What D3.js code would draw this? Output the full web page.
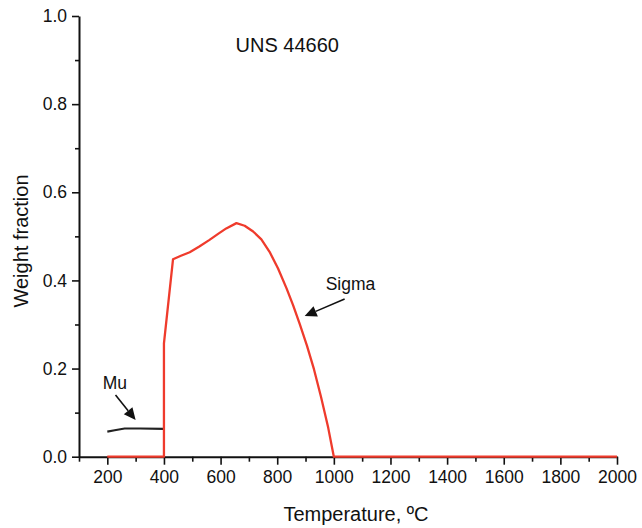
<!DOCTYPE html>
<html>
<head>
<meta charset="utf-8">
<script src="https://cdn.jsdelivr.net/npm/d3@7"></script>
<style>
  body { margin: 0; background: #fff; }
  svg text { font-family: "Liberation Sans", Arial, Helvetica, sans-serif; fill: #111; }
</style>
</head>
<body>
<div id="chart"></div>
<script>
// weight fraction of phases vs temperature
const sigmaTemp = [200, 400, 400, 432, 460, 491, 525, 561, 590, 620, 656, 685, 715, 744, 773, 803, 833, 856, 880, 905, 930, 955, 980, 1000, 2000];
const sigmaFrac = [0, 0, 0.257, 0.448, 0.456, 0.464, 0.477, 0.492, 0.505, 0.518, 0.530, 0.524, 0.511, 0.493, 0.465, 0.427, 0.382, 0.344, 0.300, 0.252, 0.198, 0.135, 0.066, 0, 0];
const muTemp = [200, 226, 261, 316, 400];
const muFrac = [0.057, 0.060, 0.064, 0.064, 0.063];

const xMajor = d3.range(200, 2001, 200);
const xMinor = d3.range(100, 2000, 200);
const yMajor = [0, 0.2, 0.4, 0.6, 0.8, 1.0];
const yMinor = [0.1, 0.3, 0.5, 0.7, 0.9];

const width = 642, height = 528;
const red = "#ef3b2c";

const svg = d3.select("#chart").append("svg")
  .attr("width", width)
  .attr("height", height);

const x = d3.scaleLinear().domain([100, 2000]).range([79, 617]);
const y = d3.scaleLinear().domain([0, 1]).range([456.7, 16]);

// axes
const xAxis = svg.append("g").attr("transform", `translate(0,${y(0)})`);
xAxis.call(d3.axisBottom(x).tickValues(xMajor).tickSize(8).tickSizeOuter(0).tickPadding(6).tickFormat(d3.format("d")));
xAxis.append("g").call(d3.axisBottom(x).tickValues(xMinor).tickSize(5).tickFormat(""))
  .select(".domain").remove();

const yAxis = svg.append("g").attr("transform", `translate(${x(100)},0)`);
yAxis.call(d3.axisLeft(y).tickValues(yMajor).tickSize(7).tickSizeOuter(0).tickPadding(5).tickFormat(d3.format(".1f")));
yAxis.append("g").call(d3.axisLeft(y).tickValues(yMinor).tickSize(4).tickFormat(""))
  .select(".domain").remove();

svg.selectAll(".domain").attr("stroke", "#111").attr("stroke-width", 2);
svg.selectAll(".tick line").attr("stroke", "#111").attr("stroke-width", 1.6);
svg.selectAll(".tick text").attr("font-size", 17.5).attr("fill", "#111")
  .style("font-family", "'Liberation Sans', Arial, sans-serif");

// series
const line = d3.line().x(d => x(d[0])).y(d => y(d[1]));

svg.append("path")
  .datum(d3.zip(muTemp, muFrac))
  .attr("fill", "none")
  .attr("stroke", "#222")
  .attr("stroke-width", 2.2)
  .attr("d", line);

svg.append("path")
  .datum(d3.zip(sigmaTemp, sigmaFrac))
  .attr("fill", "none")
  .attr("stroke", red)
  .attr("stroke-width", 2.3)
  .attr("stroke-linejoin", "round")
  .attr("d", line);

// annotations
function arrow(from, to) {
  const x0 = x(from[0]), y0 = y(from[1]), x1 = x(to[0]), y1 = y(to[1]);
  const a = Math.atan2(y1 - y0, x1 - x0);
  const len = 12, half = 5.5;
  const bx = x1 - len * Math.cos(a), by = y1 - len * Math.sin(a);
  svg.append("line")
    .attr("x1", x0).attr("y1", y0).attr("x2", bx).attr("y2", by)
    .attr("stroke", "#111").attr("stroke-width", 1.6);
  svg.append("path")
    .attr("d", `M${x1},${y1}L${bx - half * Math.sin(a)},${by + half * Math.cos(a)}L${bx + half * Math.sin(a)},${by - half * Math.cos(a)}Z`)
    .attr("fill", "#111");
}

svg.append("text").attr("x", x(227)).attr("y", y(0.154))
  .attr("text-anchor", "middle").attr("font-size", 17.5).text("Mu");
arrow([229, 0.140], [300, 0.083]);

svg.append("text").attr("x", x(971)).attr("y", y(0.378))
  .attr("font-size", 17.5).text("Sigma");
arrow([1038, 0.358], [897, 0.319]);

svg.append("text").attr("x", x(653)).attr("y", y(0.918))
  .attr("font-size", 20).text("UNS 44660");

// axis titles
svg.append("text")
  .attr("x", 356).attr("y", 521)
  .attr("text-anchor", "middle").attr("font-size", 20)
  .text("Temperature, ºC");

svg.append("text")
  .attr("transform", "translate(28,241) rotate(-90)")
  .attr("text-anchor", "middle").attr("font-size", 20)
  .text("Weight fraction");
</script>
</body>
</html>
